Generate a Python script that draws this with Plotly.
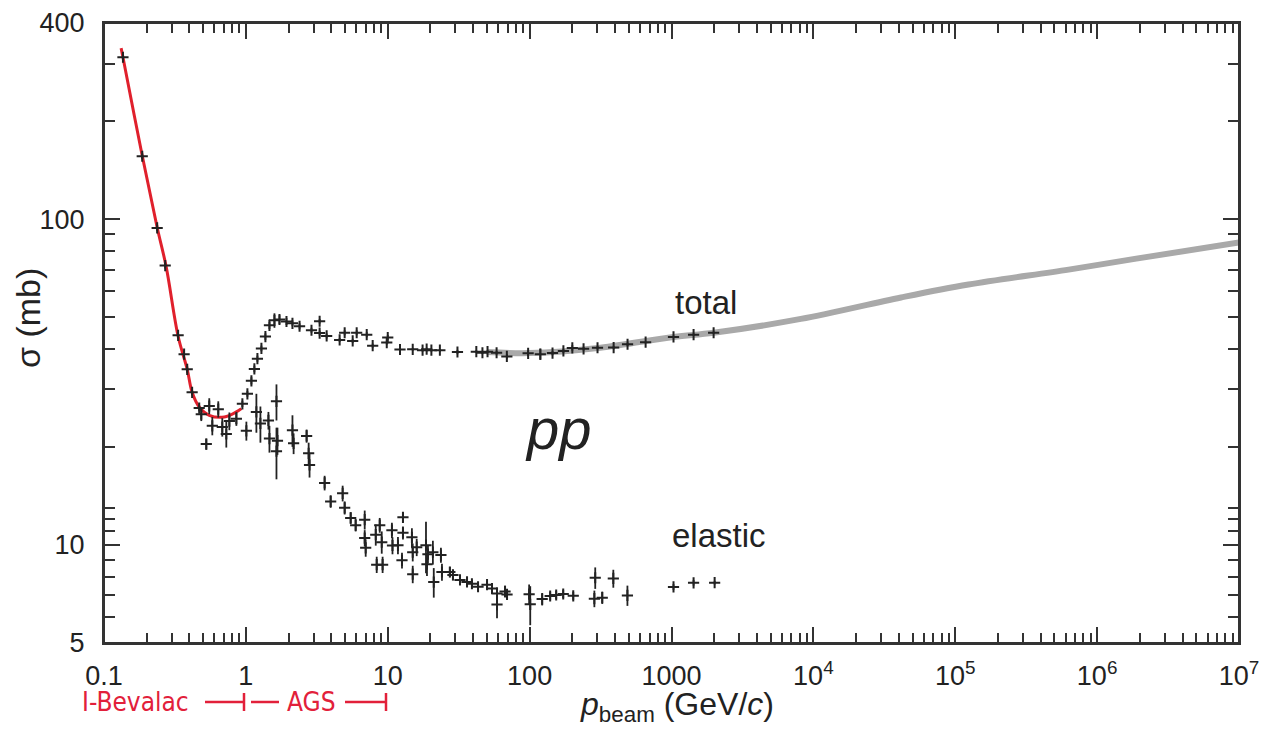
import plotly.graph_objects as go

# ---------------- data ----------------
# red fit curve for total cross section at low momentum
fit_p = [0.132, 0.136, 0.186, 0.237, 0.274, 0.333, 0.386, 0.418, 0.469, 0.552, 0.705, 0.857, 0.929]
fit_sigma = [335, 314, 156.5, 94.3, 71.6, 43.7, 34.6, 29.4, 26.5, 25.0, 24.7, 25.6, 26.2]

# grey band (high-energy total cross-section fit)
band_p = [50, 100, 315, 1033, 1981, 8160, 4.15e4, 1.24e5, 6.3e5, 1.84e6, 1e7]
band_sigma = [39.1, 38.8, 40.3, 43.5, 44.8, 49.4, 57.5, 63.0, 70.0, 75.5, 84.8]

# total cross-section data points
tot_p = [0.136, 0.186, 0.237, 0.27, 0.333, 0.367, 0.386, 0.418, 0.469, 0.945,
         1.025, 1.094, 1.148, 1.206, 1.287, 1.373, 1.466, 1.59, 1.725, 1.933,
         2.13, 2.39, 2.90, 3.31, 3.31, 3.71, 4.58, 4.97, 5.66, 6.04,
         7.11, 7.83, 9.84, 10.0, 12.2, 15.0, 17.6, 18.8, 20.3, 23.3,
         31.0, 42.1, 46.5, 50.5, 58.5, 69.1, 97.6, 119, 145, 173,
         200, 240, 301, 391, 490, 657, 1033, 1431, 1981]
tot_sigma = [314, 156, 94, 72, 44, 38.5, 34.6, 29.4, 26.3, 27.1,
             29.1, 31.9, 34.7, 37.3, 40.1, 43.6, 47.2, 48.9, 49.2, 48.5,
             47.9, 46.9, 45.6, 44.7, 48.6, 43.8, 42.6, 44.8, 42.3, 44.8,
             44.2, 40.9, 41.8, 43.3, 39.8, 39.85, 39.6, 39.9, 39.6, 39.6,
             39.1, 39.2, 38.9, 39.2, 38.9, 37.9, 38.75, 38.5, 38.8, 39.4,
             40.25, 40.0, 40.3, 40.35, 41.3, 41.9, 43.5, 44.2, 44.8]
tot_err = [4, 3, 2, 1.5, 1, 1, 0.8, 0.6, 0.6, 0.6,
           0.6, 0.8, 0.8, 0.8, 0.8, 1.0, 1.2, 2.5, 1.5, 1.2,
           1.0, 1.0, 0.8, 0.8, 0.8, 0.8, 0.6, 0.8, 0.6, 0.8,
           0.8, 0.6, 0.6, 0.8, 0.4, 0.4, 0.4, 0.4, 0.4, 0.4,
           0.6, 0.4, 0.4, 0.4, 0.5, 0.6, 0.8, 1.5, 0.6, 0.6,
           0.8, 0.5, 0.5, 0.5, 0.5, 0, 0.4, 0.4, 0.4]

# elastic cross-section data points
el_p = [0.485, 0.526, 0.552, 0.580, 0.639, 0.682, 0.728, 0.765, 0.857, 1.008,
        1.186, 1.266, 1.442, 1.466, 1.643, 1.643, 1.67, 2.13, 2.17, 2.68,
        2.77, 2.81, 3.59, 3.96, 4.81, 4.97, 5.48, 5.94, 6.88, 6.88,
        6.99, 8.23, 8.36, 8.78, 9.07, 9.2, 10.7, 10.8, 11.8, 12.6,
        12.8, 12.8, 14.8, 15.0, 15.0, 16.0, 18.6, 18.9, 19.2, 20.8,
        21.1, 23.7, 24.1, 27.4, 28.8, 32.3, 36.2, 39.2, 43.3, 50.1,
        54.3, 58.9, 58.9, 67.1, 69.3, 99.2, 101, 122.6, 139.6, 153.9,
        172.5, 203, 286, 290, 325, 389, 489, 1033, 1431, 2014]
el_sigma = [25.2, 20.4, 26.7, 23.2, 26.1, 23.0, 21.9, 24.0, 24.4, 22.4,
            25.6, 23.6, 24.1, 21.2, 27.6, 19.4, 20.9, 22.5, 20.5, 21.6,
            19.1, 17.6, 15.5, 13.6, 14.4, 13.0, 12.1, 11.5, 11.95, 10.5,
            9.8, 10.75, 8.7, 11.5, 10.2, 8.7, 11.1, 9.96, 9.97, 8.97,
            12.15, 10.9, 10.55, 9.5, 8.13, 9.84, 9.98, 8.73, 9.37, 9.5,
            7.69, 9.31, 8.26, 8.26, 8.09, 7.81, 7.70, 7.60, 7.44, 7.55,
            7.35, 7.10, 6.56, 7.20, 7.05, 7.06, 6.57, 6.82, 6.97, 7.02,
            7.07, 6.98, 6.84, 7.93, 6.89, 7.89, 7.0, 7.43, 7.65, 7.66]
el_err = [1.2, 0.8, 1.5, 1.5, 1.5, 1.5, 2.0, 1.5, 1.2, 1.5,
          3.5, 3.0, 1.5, 2.0, 3.5, 3.5, 2.0, 2.5, 1.5, 1.0,
          1.5, 1.5, 0.8, 0.6, 0.8, 0.6, 0.5, 0.5, 0.8, 0.6,
          0.6, 0.8, 0.5, 0.6, 0.8, 0.5, 0.6, 0.6, 0.6, 0.5,
          0.4, 0.5, 0.7, 0.6, 0.5, 0.6, 1.8, 0.7, 0.6, 0.8,
          0.8, 0.5, 0.5, 0.3, 0.3, 0.2, 0.2, 0.2, 0.2, 0.2,
          0.2, 0.3, 0.6, 0.3, 0.2, 0.5, 0.9, 0.3, 0.2, 0.2,
          0.2, 0.2, 0.4, 0.6, 0.3, 0.5, 0.5, 0.15, 0.15, 0.1]

# axis ticks
x_major = [0.1, 1, 10, 100, 1000, 1e4, 1e5, 1e6, 1e7]
x_labels = ["0.1", "1", "10", "100", "1000", "10<sup>4</sup>", "10<sup>5</sup>",
            "10<sup>6</sup>", "10<sup>7</sup>"]
x_minor_steps = [2, 3, 4, 5, 6, 7, 8, 9]
y_major = [5, 10, 100, 400]
y_labels = ["5", "10", "100", "400"]
y_minor = [6, 7, 8, 9, 11, 12, 13, 20, 30, 40, 50, 60, 70, 80, 90, 200, 300]

# ---------------- figure ----------------
# The page body has an 8 px margin; size the figure so the page is 1273x734
OFF = 8
PAGE_W, PAGE_H = 1273, 734
W, H = PAGE_W - 2 * OFF, PAGE_H - 2 * OFF
# desired plot box in page pixels
PL, PR, PT, PB = 104, 1239, 23, 643
L, T = PL - OFF, PT - OFF
R, B = (OFF + W) - PR, (OFF + H) - PB

FONT = "Liberation Sans, Arial, Helvetica, sans-serif"
HAND = "DejaVu Sans Condensed, DejaVu Sans, sans-serif"
INK = "#222222"
AX = "#333333"
RED = "#e2203a"

x_minor = [m * d for d in x_major[:-1] for m in x_minor_steps]

fig = go.Figure()
fig.add_trace(go.Scatter(x=band_p, y=band_sigma, mode="lines",
                         line=dict(color="#a9a9a9", width=6, shape="spline"),
                         showlegend=False, hoverinfo="skip"))
fig.add_trace(go.Scatter(x=fit_p, y=fit_sigma, mode="lines",
                         line=dict(color="#e0202c", width=3, shape="spline"),
                         showlegend=False))
marker = dict(symbol="cross-thin", size=8, line=dict(width=2, color=INK), color=INK)
fig.add_trace(go.Scatter(x=tot_p, y=tot_sigma, mode="markers", marker=marker,
                         error_y=dict(type="data", array=tot_err, visible=True,
                                      thickness=1.8, width=0, color=INK),
                         showlegend=False))
fig.add_trace(go.Scatter(x=el_p, y=el_sigma, mode="markers", marker=marker,
                         error_y=dict(type="data", array=el_err, visible=True,
                                      thickness=1.8, width=0, color=INK),
                         showlegend=False))

axis_common = dict(type="log", showgrid=False, zeroline=False, showline=True,
                   linecolor=AX, linewidth=2, mirror="allticks", automargin=False,
                   ticks="inside", tickwidth=2, tickcolor=AX, ticklabeloverflow="allow",
                   tickfont=dict(family=FONT, size=27, color=INK))

fig.update_xaxes(range=[-1, 7], tickmode="array", tickvals=x_major, ticktext=x_labels,
                 ticklen=16, ticklabelstandoff=8,
                 minor=dict(tickmode="array", tickvals=x_minor, ticks="inside",
                            ticklen=10, tickwidth=2, tickcolor=AX, showgrid=False),
                 **axis_common)
fig.update_yaxes(range=[0.69897, 2.60206], tickmode="array", tickvals=y_major, ticktext=y_labels,
                 ticklen=16, ticklabelstandoff=12,
                 minor=dict(tickmode="array", tickvals=y_minor, ticks="inside",
                            ticklen=11, tickwidth=2, tickcolor=AX, showgrid=False),
                 **axis_common)

def px_x(px):
    return (px - PL) / (PR - PL)

def px_y(py):
    return (PB - py) / (PB - PT)

ann = [
    dict(text="total", x=px_x(706), y=px_y(302), font=dict(size=33, family=FONT, color=INK)),
    dict(text="elastic", x=px_x(719), y=px_y(535), font=dict(size=33, family=FONT, color=INK)),
    dict(text="<i>pp</i>", x=px_x(558), y=px_y(428), font=dict(size=58, family=FONT, color=INK)),
    dict(text="σ (mb)", x=px_x(28), y=px_y(318), textangle=-90,
         font=dict(size=34, family=FONT, color=INK)),
    dict(text="<i>p</i><sub>beam</sub> (GeV/<i>c</i>)", x=px_x(677), y=px_y(706),
         font=dict(size=32, family=FONT, color=INK)),
    dict(text="I-Bevalac", x=px_x(80), y=px_y(702), xanchor="left",
         font=dict(size=26, family=HAND, color=RED)),
    dict(text="AGS", x=px_x(311), y=px_y(702),
         font=dict(size=26, family=HAND, color=RED)),
]
for a in ann:
    a.setdefault("xanchor", "center")
    a.update(xref="paper", yref="paper", yanchor="middle", showarrow=False)
fig.update_layout(annotations=ann)

red = dict(color=RED, width=2.5)
segs = [(205, 702, 243, 702), (244, 693, 244, 711), (251, 702, 279, 702),
        (345, 702, 385, 702), (386, 693, 386, 711)]
shapes = [dict(type="line", xref="paper", yref="paper", x0=px_x(a), y0=px_y(b),
               x1=px_x(c), y1=px_y(d), line=red) for a, b, c, d in segs]
# explicit frame around the plot area
shapes.append(dict(type="rect", xref="paper", yref="paper", x0=0, y0=0, x1=1, y1=1,
                   line=dict(color=AX, width=2), layer="above"))
fig.update_layout(shapes=shapes)

fig.update_layout(width=W, height=H, margin=dict(l=L, r=R, t=T, b=B, autoexpand=False),
                  paper_bgcolor="white", plot_bgcolor="white",
                  font=dict(family=FONT, color=INK))

fig.write_html("out.html")
